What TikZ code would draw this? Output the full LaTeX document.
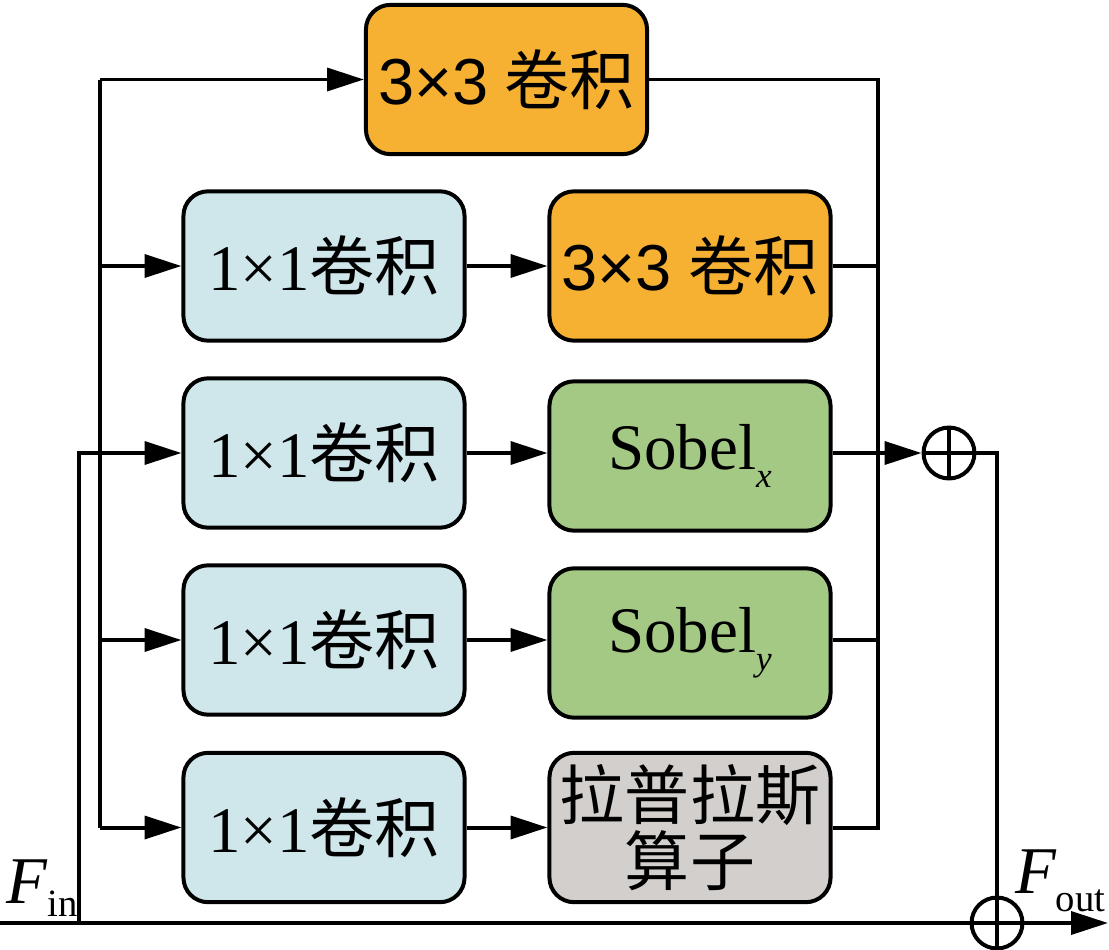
\documentclass[tikz,border=0pt]{standalone}
\usepackage{fontspec}
\setmainfont{Liberation Serif}
\newfontfamily\cjk{Noto Sans CJK SC}
\newfontfamily\numsans{Liberation Sans}
\usetikzlibrary{arrows.meta}
\definecolor{convorange}{HTML}{F6B133}
\definecolor{convblue}{HTML}{CFE6EA}
\definecolor{sobgreen}{HTML}{A3C985}
\definecolor{lapgray}{HTML}{D3CFCC}
\begin{document}
\begin{tikzpicture}[x=0.02cm, y=-0.02cm, line width=2.27pt,
  blk/.style={draw, rounded corners=14pt, minimum width=160pt, minimum height=85pt, inner sep=0pt, align=center, font=\fontsize{37}{38}\selectfont},
  arr/.style={-{Triangle[length=21pt,width=13pt]}},
  sumnode/.style={draw, circle, minimum size=29pt, inner sep=0pt}]
\useasboundingbox (0,0) rectangle (1109,950);
% boxes
\node[blk, fill=convorange] (c33a) at (506.5,79.5){{\numsans 3×3} {\cjk 卷积}};
\node[blk, fill=convblue] (c11a) at (324,266){1×1{\cjk 卷积}};
\node[blk, fill=convorange] (c33b) at (690,266){{\numsans 3×3} {\cjk 卷积}};
\node[blk, fill=convblue] (c11b) at (324,453){1×1{\cjk 卷积}};
\node[blk, fill=sobgreen] (sobx) at (690,456){Sobel\raisebox{-0.6ex}{\fontsize{20}{20}\selectfont\itshape x}};
\node[blk, fill=convblue] (c11c) at (324,640){1×1{\cjk 卷积}};
\node[blk, fill=sobgreen] (soby) at (690,643){Sobel\raisebox{-0.6ex}{\fontsize{20}{20}\selectfont\itshape y}};
\node[blk, fill=convblue] (c11d) at (324,827.5){1×1{\cjk 卷积}};
\node[blk, fill=lapgray] (lap) at (690,827.5){{\cjk 拉普拉斯}\\{\cjk 算子}};
% sums
\node[sumnode] (sum1) at (949,453){};
\node[sumnode] (sum2) at (997,923){};
\draw (sum1.north) -- (sum1.south);
\draw (sum1.west) -- (sum1.east);
\draw (sum2.north) -- (sum2.south);
\draw (sum2.west) -- (sum2.east);
% labels
\node[anchor=base west, inner sep=0pt, font=\fontsize{38}{38}\selectfont] (fin) at (5,903){\itshape F\normalfont\raisebox{-0.45ex}{\fontsize{22}{22}\selectfont in}};
\node[anchor=base west, inner sep=0pt, font=\fontsize{38}{38}\selectfont] (fout) at (1013,893){\itshape F\normalfont\raisebox{-0.6ex}{\fontsize{22}{22}\selectfont out}};
% corners
\coordinate (tl) at (100,79.5);
\coordinate (bl) at (100,827.5);
\coordinate (tr) at (878,79.5);
\coordinate (br) at (878,827.5);
\coordinate (start) at (0,923);
\coordinate (inpt) at (79,923);
\coordinate (stop) at (1108,923);
% left bus
\draw[] (tl) -- (bl);
\draw[arr] (tl) -- (c33a.west);
\draw[arr] (c11a.west -| tl) -- (c11a.west);
\draw[arr] (inpt) |- (c11b.west);
\draw[arr] (c11c.west -| tl) -- (c11c.west);
\draw[arr] (bl) -- (c11d.west);
% middle
\draw[arr] (c11a) -- (c33b);
\draw[arr] (c11b) -- (c11b -| sobx.west);
\draw[arr] (c11c) -- (c11c -| soby.west);
\draw[arr] (c11d) -- (lap);
% right bus
\draw[] (c33a.east) -- (tr) -- (br) -- (lap.east);
\draw[] (c33b.east) -- (c33b.east -| tr);
\draw[] (c11c -| soby.east) -- (c11c -| tr);
\draw[arr] (c11b -| sobx.east) -- (sum1.west);
\draw[] (sum1.east) -| (sum2.north);
% main line
\draw[] (start) -- (sum2.west);
\draw[arr] (sum2.east) -- (stop);
\end{tikzpicture}
\end{document}
